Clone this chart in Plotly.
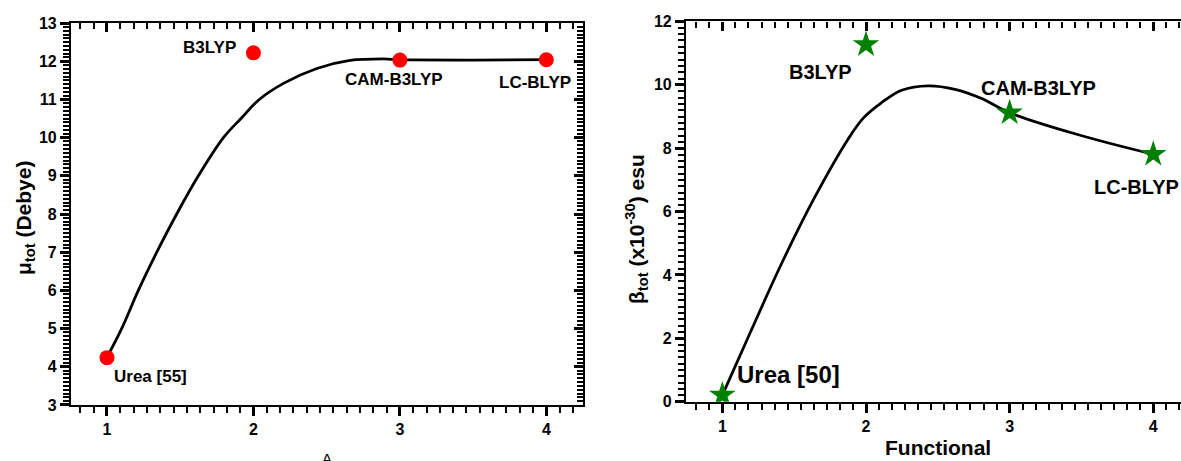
import plotly.graph_objects as go

# ---- data ----
functional_x = [1, 2, 3, 4]
mu_labels = ["Urea [55]", "B3LYP", "CAM-B3LYP", "LC-BLYP"]
mu_values = [4.24, 12.22, 12.03, 12.04]
beta_labels = ["Urea [50]", "B3LYP", "CAM-B3LYP", "LC-BLYP"]
beta_values = [0.21, 11.27, 9.12, 7.81]

# smooth fitted curves
mu_curve_x = [1.0, 1.1, 1.214, 1.34, 1.476, 1.624, 1.795, 1.92, 2.034, 2.205, 2.433, 2.66, 2.889, 3.0, 3.5, 4.0]
mu_curve_y = [4.25, 5.0, 6.0, 7.0, 8.0, 9.0, 10.0, 10.52, 10.98, 11.42, 11.81, 12.02, 12.06, 12.04, 12.03, 12.04]
beta_curve_x = [1.0, 1.181, 1.413, 1.645, 1.877, 1.981, 2.109, 2.248, 2.434, 2.619, 2.805, 3.0, 3.49, 4.0]
beta_curve_y = [0.21, 2.05, 4.37, 6.47, 8.30, 8.95, 9.44, 9.83, 9.97, 9.86, 9.57, 9.12, 8.41, 7.81]

# label anchor positions (data coordinates)
mu_label_x = [1.30, 1.70, 2.96, 3.92]
mu_label_y = [3.74, 12.35, 11.53, 11.44]
beta_label_x = [1.457, 1.685, 3.20, 3.884]
beta_label_y = [0.87, 10.41, 9.89, 6.78]

FONT = "Arial, Liberation Sans, sans-serif"

fig = go.Figure()

# left panel
fig.add_trace(go.Scatter(x=mu_curve_x, y=mu_curve_y, mode="lines",
                         line=dict(color="black", width=2.8, shape="spline", smoothing=1.0),
                         xaxis="x", yaxis="y", showlegend=False, hoverinfo="skip"))
fig.add_trace(go.Scatter(x=functional_x, y=mu_values, mode="markers",
                         marker=dict(color="#ff0000", size=15, line=dict(width=0)),
                         xaxis="x", yaxis="y", showlegend=False))
# right panel
fig.add_trace(go.Scatter(x=beta_curve_x, y=beta_curve_y, mode="lines",
                         line=dict(color="black", width=2.8, shape="spline", smoothing=1.0),
                         xaxis="x2", yaxis="y2", showlegend=False, hoverinfo="skip"))
fig.add_trace(go.Scatter(x=functional_x, y=beta_values, mode="markers",
                         marker=dict(color="#008000", size=20, symbol="star", line=dict(width=0)),
                         xaxis="x2", yaxis="y2", showlegend=False))
# dummy traces for mirror axes
fig.add_trace(go.Scatter(x=[None], y=[None], xaxis="x3", yaxis="y", showlegend=False, hoverinfo="skip"))
fig.add_trace(go.Scatter(x=[None], y=[None], xaxis="x", yaxis="y3", showlegend=False, hoverinfo="skip"))
fig.add_trace(go.Scatter(x=[None], y=[None], xaxis="x4", yaxis="y2", showlegend=False, hoverinfo="skip"))

tickfont = dict(family=FONT, size=16, color="black", weight="bold")


def x_axis(rng, side_ticks, **extra):
    d = dict(range=rng, tickvals=functional_x, showline=True, linewidth=2.2,
             linecolor="black", showgrid=False, zeroline=False, ticks=side_ticks,
             ticklen=9, tickwidth=2.5, tickcolor="black", tickfont=tickfont,
             minor=dict(ticks=side_ticks, dtick=1 / 11, tick0=0, ticklen=6, tickwidth=2,
                        tickcolor="black"))
    d.update(extra)
    return d


def y_axis(rng, dt, mdt, side_ticks, **extra):
    d = dict(range=rng, dtick=dt, showline=True, linewidth=2.2,
             linecolor="black", showgrid=False, zeroline=False, ticks=side_ticks,
             ticklen=9, tickwidth=2.5, tickcolor="black", tickfont=tickfont,
             minor=dict(ticks=side_ticks, dtick=mdt, ticklen=6, tickwidth=2,
                        tickcolor="black"))
    d.update(extra)
    return d


L_rng = [0.754, 4.25]
R_rng = [0.747, 4.193]

fig.update_layout(
    template="none",
    width=1181, height=461,
    margin=dict(l=0, r=0, t=0, b=0, autoexpand=False),
    paper_bgcolor="white", plot_bgcolor="white",
    font=dict(family=FONT, color="black"),
    xaxis=x_axis(L_rng, "outside", domain=[0.0601, 0.4936], anchor="y"),
    xaxis3=x_axis(L_rng, "inside", overlaying="x", side="top", anchor="y", showticklabels=False),
    xaxis2=x_axis(R_rng, "outside", domain=[0.5809, 1.0], anchor="y2"),
    xaxis4=x_axis(R_rng, "inside", overlaying="x2", side="top", anchor="y2", showticklabels=False),
    yaxis=y_axis([3, 13], 1, 0.1, "outside", domain=[0.1215, 0.950], anchor="x"),
    yaxis3=y_axis([3, 13], 1, 0.1, "inside", overlaying="y", side="right", anchor="x",
                  showticklabels=False),
    yaxis2=y_axis([0, 12], 2, 0.2, "outside", domain=[0.1286, 0.9534], anchor="x2"),
)

ann = []
for lx, ly, t in zip(mu_label_x, mu_label_y, mu_labels):
    ann.append(dict(x=lx, y=ly, xref="x", yref="y", text="<b>%s</b>" % t, showarrow=False,
                    font=dict(family=FONT, size=17, color="black"), xanchor="center", yanchor="middle"))
for i, (lx, ly, t) in enumerate(zip(beta_label_x, beta_label_y, beta_labels)):
    size = 24 if i == 0 else 20
    ann.append(dict(x=lx, y=ly, xref="x2", yref="y2", text="<b>%s</b>" % t, showarrow=False,
                    font=dict(family=FONT, size=size, color="black"), xanchor="center", yanchor="middle"))

# axis titles
ann.append(dict(x=25 / 1181, y=1 - 218 / 461, xref="paper", yref="paper",
                text="<b>μ<sub>tot</sub> (Debye)</b>", textangle=-90, showarrow=False,
                font=dict(family=FONT, size=21, color="black"), xanchor="center", yanchor="middle"))
ann.append(dict(x=636 / 1181, y=1 - 229 / 461, xref="paper", yref="paper",
                text="<b>β<sub>tot</sub> (x10<sup>-30</sup>) esu</b>", textangle=-90, showarrow=False,
                font=dict(family=FONT, size=21, color="black"), xanchor="center", yanchor="middle"))
ann.append(dict(x=938 / 1181, y=1 - 447 / 461, xref="paper", yref="paper",
                text="<b>Functional</b>", showarrow=False,
                font=dict(family=FONT, size=21, color="black"), xanchor="center", yanchor="middle"))
ann.append(dict(x=327 / 1181, y=1 - 448 / 461, xref="paper", yref="paper",
                text="A", showarrow=False,
                font=dict(family=FONT, size=15, color="black"), xanchor="center", yanchor="top"))

fig.update_layout(annotations=ann)

fig.write_html("out.html")
